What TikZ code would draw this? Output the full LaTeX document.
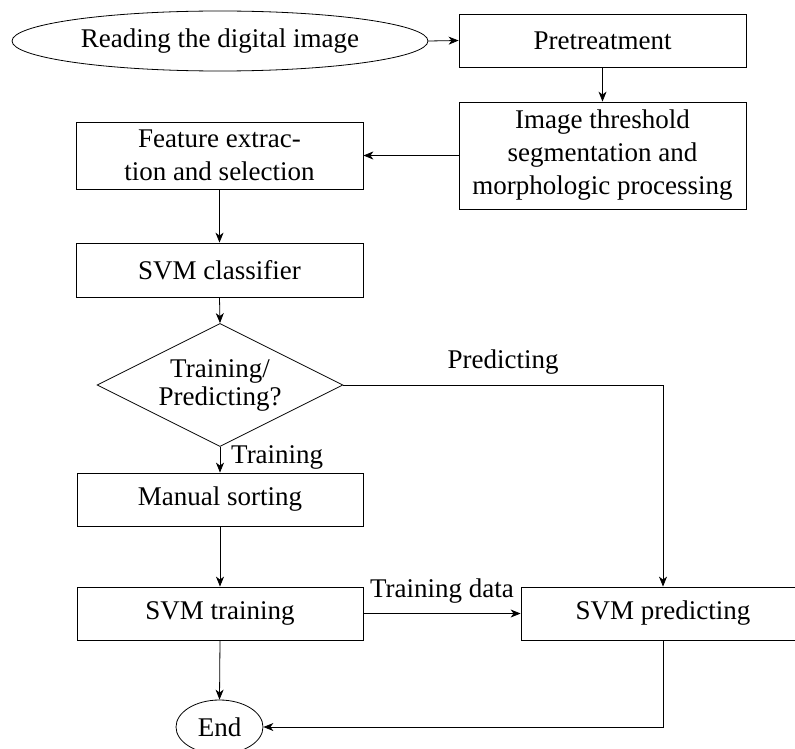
\documentclass[tikz,border=0pt]{standalone}
\usepackage{fontspec}
\setmainfont{Liberation Serif}
\usetikzlibrary{shapes.geometric,arrows.meta}
\tikzset{
  base/.style={draw=black, line width=0.8pt, inner sep=0pt, align=center,
    font=\fontsize{27}{33}\selectfont},
  procbox/.style={base, rectangle},
  termshape/.style={base, ellipse},
  decide/.style={base, diamond, aspect=2, font=\fontsize{27}{28}\selectfont},
  conn/.style={draw=black, line width=0.8pt, -{Stealth[length=10pt,width=8pt,inset=3pt]}},
  lbl/.style={inner sep=0pt, font=\fontsize{27}{30}\selectfont}
}
\begin{document}
\begin{tikzpicture}[x=1pt,y=-1pt]
\useasboundingbox (0,0) rectangle (795,749);
\clip (0,0) rectangle (795,749);

\node[termshape, minimum width=416pt, minimum height=60pt] (read) at (220,41) {Reading the digital image};
\node[procbox, minimum width=287pt, minimum height=53pt] (pre) at (602.5,40.5) {Pretreatment};
\node[procbox, minimum width=287pt, minimum height=107pt] (thr) at (602.5,155.5) {Image threshold\\segmentation and\\morphologic processing};
\node[procbox, minimum width=287pt, minimum height=67pt] (feat) at (219.5,155.5) {Feature extrac-\\tion and selection};
\node[procbox, minimum width=287pt, minimum height=54pt] (svmc) at (219.5,270) {SVM classifier};
\node[decide, minimum width=246pt, minimum height=123pt] (dia) at (220,385) {Training/\\Predicting?};
\node[procbox, minimum width=286pt, minimum height=53pt] (man) at (220,499.5) {Manual sorting};
\node[procbox, minimum width=286pt, minimum height=53pt] (svmt) at (220,613.5) {SVM training};
\node[procbox, minimum width=284pt, minimum height=53pt] (svmp) at (663,613.5) {SVM predicting};
\node[termshape, minimum width=87pt, minimum height=54pt] (end) at (219.5,727) {End};

\draw[conn] (read.east) -- (pre.west);
\draw[conn] (pre.south) -- (thr.north);
\draw[conn] (thr.west) -- (feat.east);
\draw[conn] (feat.south) -- (svmc.north);
\draw[conn] (svmc.south) -- (dia.north);
\draw[conn] (dia.south) -- (man.north);
\draw[conn] (dia.east) -| (svmp.north);
\draw[conn] (man.south) -- (svmt.north);
\draw[conn] (svmt.east) -- (svmp.west);
\draw[conn] (svmt.south) -- (end.north);
\draw[conn] (svmp.south) |- (end.east);

\node[lbl, anchor=west] (ltrain) at (231,457) {Training};
\node[lbl] (lpred) at (503,362) {Predicting};
\node[lbl] (ldata) at (442,591) {Training data};
\end{tikzpicture}
\end{document}
